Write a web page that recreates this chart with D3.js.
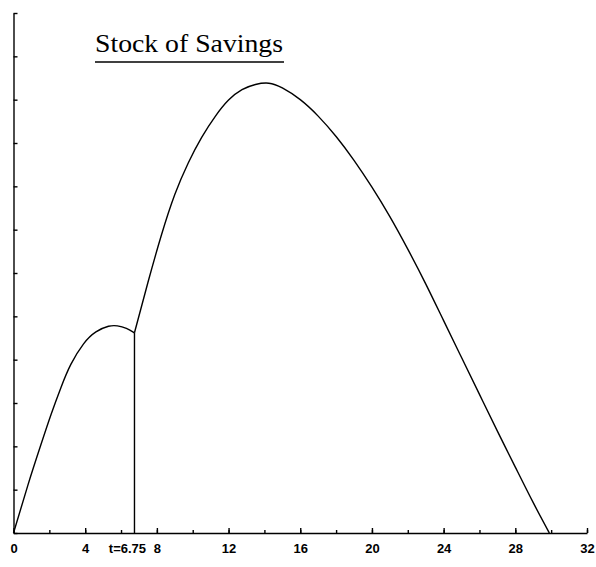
<!DOCTYPE html>
<html>
<head>
<meta charset="utf-8">
<script src="https://cdn.jsdelivr.net/npm/d3@7"></script>
<style>
  body { margin: 0; background: #fff; }
  svg { display: block; }
  .axis text { font-family: "Liberation Sans", Arial, sans-serif; font-size: 13px; font-weight: bold; fill: #000; }
  .axis path, .axis line { stroke: #000; stroke-width: 1.4; }
</style>
</head>
<body>
<svg width="596" height="567"></svg>
<script>
// first phase: saving from t=0 until the switch
var phase1T = [0, 0.8, 1.5, 2.1, 2.65, 3.2, 3.9, 4.6, 5.3, 5.8, 6.3, 6.75];
var phase1S = [0, 1.10, 2.00, 2.74, 3.36, 3.89, 4.36, 4.64, 4.77, 4.78, 4.72, 4.62];

// second phase: after the switch at t=6.75
var phase2T = [6.75, 7.5, 8.25, 9.0, 9.75, 10.5, 11.25, 12.0, 12.75, 13.5, 14.25, 15.0, 16.0, 17.0,
	18.0, 19.0, 20.0, 21.0, 22.0, 23.0, 24.0, 25.0, 26.0, 27.0, 28.0, 29.0, 29.9];
var phase2S = [4.62, 5.78, 6.87, 7.81, 8.54, 9.13, 9.61, 9.99, 10.23, 10.35, 10.38, 10.27, 10.00, 9.62,
	9.15, 8.60, 7.98, 7.30, 6.55, 5.75, 4.90, 4.05, 3.20, 2.35, 1.52, 0.70, 0];

var switchT = 6.75;
var switchLabel = "t=6.75";
var title = "Stock of Savings";

var minorTicks = d3.range(0, 33, 2);
var majorTicks = [0, 4, 8, 12, 16, 20, 24, 28, 32];
var yTicks = d3.range(0, 13);

var svg = d3.select("svg");

var x = d3.scaleLinear().domain([0, 32]).range([13.5, 587]);
var y = d3.scaleLinear().domain([0, 12]).range([533, 13]);

var line = d3.line()
	.x(function(d) { return x(d[0]); })
	.y(function(d) { return y(d[1]); })
	.curve(d3.curveNatural);

// x axis: short minor ticks, longer labelled ticks, all pointing up
svg.append("g")
	.attr("class", "axis")
	.attr("transform", "translate(0," + y(0) + ")")
	.call(d3.axisBottom(x).tickValues(minorTicks).tickSizeInner(-3).tickSizeOuter(0).tickFormat(""));

svg.append("g")
	.attr("class", "axis")
	.attr("transform", "translate(0," + y(0) + ")")
	.call(d3.axisBottom(x).tickValues(majorTicks).tickSizeInner(-5).tickSizeOuter(0).tickPadding(11))
	.select(".domain").remove();

svg.append("text")
	.attr("x", x(switchT) - 7)
	.attr("y", y(0) + 20)
	.attr("text-anchor", "middle")
	.style("font-family", "Liberation Sans, Arial, sans-serif")
	.style("font-size", "13px")
	.style("font-weight", "bold")
	.text(switchLabel);

// y axis: unlabelled ticks pointing right
svg.append("g")
	.attr("class", "axis")
	.attr("transform", "translate(" + x(0) + ",0)")
	.call(d3.axisLeft(y).tickValues(yTicks).tickSizeInner(-4).tickSizeOuter(0).tickFormat(""));

// curves
var pts1 = phase1T.map(function(t, i) { return [t, phase1S[i]]; });
var pts2 = phase2T.map(function(t, i) { return [t, phase2S[i]]; });

svg.append("path")
	.datum(pts1)
	.attr("fill", "none")
	.attr("stroke", "#000")
	.attr("stroke-width", 1.4)
	.attr("d", line);

svg.append("path")
	.datum(pts2)
	.attr("fill", "none")
	.attr("stroke", "#000")
	.attr("stroke-width", 1.4)
	.attr("d", line);

svg.append("line")
	.attr("x1", x(switchT)).attr("x2", x(switchT))
	.attr("y1", y(0)).attr("y2", y(phase1S[phase1S.length - 1]))
	.attr("stroke", "#000")
	.attr("stroke-width", 1.4);

// title with underline
svg.append("text")
	.attr("x", 95)
	.attr("y", 52)
	.attr("textLength", 188)
	.attr("lengthAdjust", "spacingAndGlyphs")
	.style("font-family", "Liberation Serif, Times New Roman, serif")
	.style("font-size", "26px")
	.text(title);

svg.append("line")
	.attr("x1", 95).attr("x2", 284)
	.attr("y1", 62).attr("y2", 62)
	.attr("stroke", "#000")
	.attr("stroke-width", 1.6);
</script>
</body>
</html>
